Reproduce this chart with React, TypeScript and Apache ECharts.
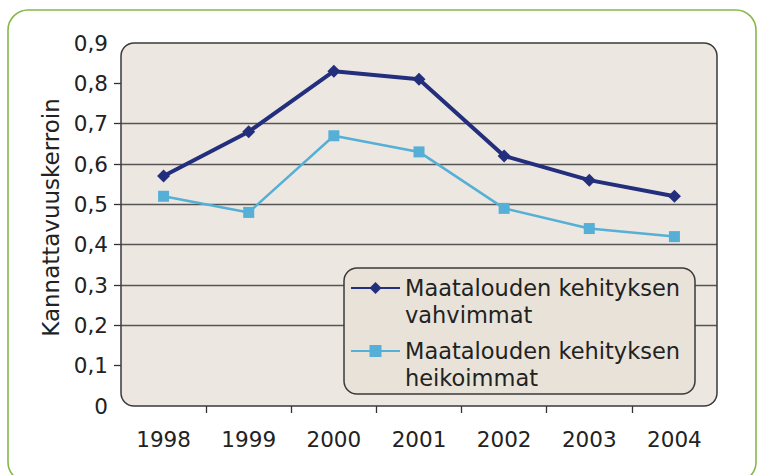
import React, { useEffect, useRef } from "react";
import * as echarts from "echarts";

const years = ["1998", "1999", "2000", "2001", "2002", "2003", "2004"];
const strongest = [0.57, 0.68, 0.83, 0.81, 0.62, 0.56, 0.52];
const weakest = [0.52, 0.48, 0.67, 0.63, 0.49, 0.44, 0.42];
const seriesNames = ["Maatalouden kehityksen\nvahvimmat", "Maatalouden kehityksen\nheikoimmat"];
const yTitle = "Kannattavuuskerroin";

const FONT = "DejaVu Sans";
const G = { left: 121, top: 43, width: 596, height: 363 };

export default function App() {
  const ref = useRef<HTMLDivElement>(null);
  useEffect(() => {
    if (!ref.current) return;
    const chart = echarts.init(ref.current, null, { renderer: "svg" });
    chart.setOption({
      animation: false,
      backgroundColor: "#ffffff",
      textStyle: { fontFamily: FONT },
      grid: { left: G.left, top: G.top, width: G.width, height: G.height, containLabel: false },
      graphic: [
        {
          type: "rect",
          z: -20,
          shape: { x: 8, y: 10, width: 748, height: 472, r: 20 },
          style: { fill: "#ffffff", stroke: "#86B84A", lineWidth: 1.6 },
        },
        {
          type: "rect",
          z: -10,
          shape: { x: G.left, y: G.top, width: G.width, height: G.height, r: 13 },
          style: { fill: "#ECE8E1", stroke: "none" },
        },
        {
          type: "rect",
          z: 6,
          shape: { x: G.left, y: G.top, width: G.width, height: G.height, r: 13 },
          style: { fill: "none", stroke: "#3a3a3a", lineWidth: 1.5 },
        },
        {
          type: "rect",
          z: 3,
          shape: { x: 344, y: 268, width: 351, height: 126, r: 13 },
          style: { fill: "#E8E2D8", stroke: "#3a3a3a", lineWidth: 1.5 },
        },
      ],
      legend: {
        orient: "vertical",
        left: 350,
        top: 247.5,
        itemWidth: 49,
        itemHeight: 15,
        itemGap: -18,
        padding: 0,
        z: 8,
        formatter: (name: string) => "\n" + name,
        textStyle: { fontFamily: FONT, fontSize: 22.5, lineHeight: 27, color: "#222222" },
        data: seriesNames,
      },
      xAxis: [
        {
          type: "category",
          data: years,
          boundaryGap: true,
          axisLine: { show: false },
          axisTick: { show: false },
          axisLabel: { fontFamily: FONT, fontSize: 21.5, color: "#222222", margin: 22 },
          splitLine: { show: false },
        },
        {
          type: "value",
          min: 0,
          max: 7,
          position: "bottom",
          axisLine: { show: false },
          axisLabel: { show: false },
          splitLine: { show: false },
          axisTick: {
            show: true,
            length: 7,
            customValues: [1, 2, 3, 4, 5, 6],
            lineStyle: { color: "#333333", width: 1.3 },
          },
        },
      ],
      yAxis: {
        type: "value",
        min: 0,
        max: 0.9,
        interval: 0.1,
        name: yTitle,
        nameLocation: "middle",
        nameGap: 57,
        nameTextStyle: { fontFamily: FONT, fontSize: 23, color: "#222222", padding: [0, 0, 0, 14] },
        axisLine: { show: false },
        axisTick: {
          show: true,
          length: 7,
          customValues: [0.1, 0.2, 0.3, 0.4, 0.5, 0.6, 0.7, 0.8],
          lineStyle: { color: "#333333", width: 1.3 },
        },
        axisLabel: {
          fontFamily: FONT,
          fontSize: 21.5,
          color: "#222222",
          margin: 13,
          formatter: (v: number) => (Math.round(v * 10) / 10).toString().replace(".", ","),
        },
        splitLine: {
          show: true,
          showMinLine: false,
          showMaxLine: false,
          lineStyle: { color: "#555555", width: 1.3 },
        },
      },
      series: [
        {
          name: seriesNames[0],
          type: "line",
          data: strongest,
          symbol: "diamond",
          symbolSize: 13,
          color: "#232E7D",
          lineStyle: { width: 4, color: "#232E7D" },
          itemStyle: { color: "#232E7D" },
          z: 3,
        },
        {
          name: seriesNames[1],
          type: "line",
          data: weakest,
          symbol: "rect",
          symbolSize: 11,
          color: "#55AFD6",
          lineStyle: { width: 2.5, color: "#55AFD6" },
          itemStyle: { color: "#55AFD6" },
          z: 2,
        },
      ],
    });
    return () => chart.dispose();
  }, []);
  return (
    <div
      ref={ref}
      style={{ position: "fixed", left: 0, top: 0, width: 760, height: 475 }}
    />
  );
}
